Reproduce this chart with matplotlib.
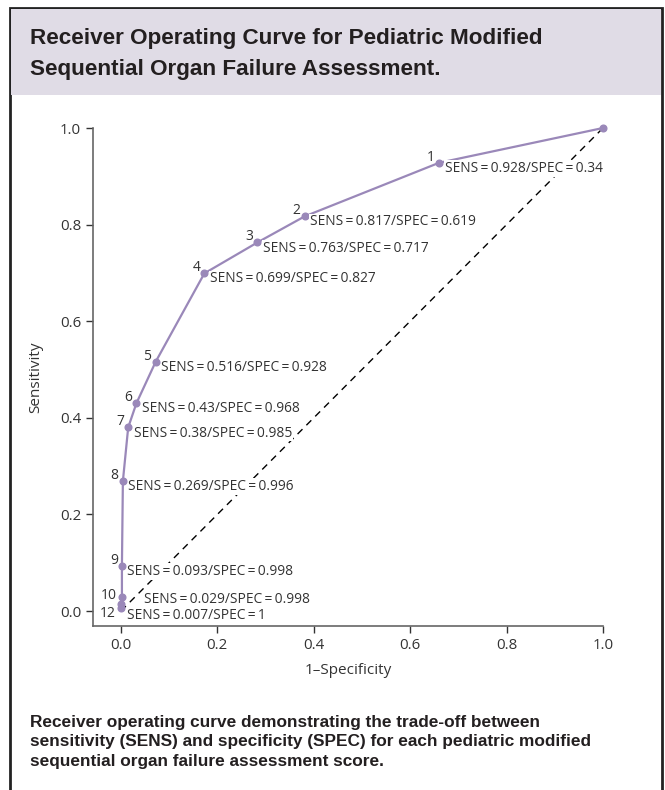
import matplotlib
matplotlib.use("Agg")
import matplotlib.pyplot as plt
from matplotlib.patches import Rectangle

# ROC points, one per pediatric modified SOFA cut-off score
scores = [1, 2, 3, 4, 5, 6, 7, 8, 9, 10, 11, 12]
sens = [0.928, 0.817, 0.763, 0.699, 0.516, 0.43, 0.38, 0.269, 0.093, 0.029, 0.014, 0.007]
spec = [0.34, 0.619, 0.717, 0.827, 0.928, 0.968, 0.985, 0.996, 0.998, 0.998, 0.999, 1]
shown = [True] * 10 + [False, True]
spec_text = ["0.34", "0.619", "0.717", "0.827", "0.928", "0.968", "0.985",
             "0.996", "0.998", "0.998", "0.999", "1"]
sens_text = ["0.928", "0.817", "0.763", "0.699", "0.516", "0.43", "0.38",
             "0.269", "0.093", "0.029", "0.014", "0.007"]

x_ticks = [0.0, 0.2, 0.4, 0.6, 0.8, 1.0]
y_ticks = [0.0, 0.2, 0.4, 0.6, 0.8, 1.0]

title = "Receiver Operating Curve for Pediatric Modified\nSequential Organ Failure Assessment."
caption = ("Receiver operating curve demonstrating the trade-off between\n"
           "sensitivity (SENS) and specificity (SPEC) for each pediatric modified\n"
           "sequential organ failure assessment score.")

PURPLE = "#9a88b9"
HEAD_BG = "#e0dce6"
BODY_FONT = ["Open Sans", "DejaVu Sans"]
HEAD_FONT = ["Liberation Sans", "DejaVu Sans"]

fig = plt.figure(figsize=(6.65, 7.9), dpi=100)

# frame and title band
fig.patches.append(Rectangle((10 / 665, -0.01), 652 / 665, (790 - 8) / 790 + 0.01,
                             transform=fig.transFigure, facecolor="white",
                             edgecolor="#222222", linewidth=2, zorder=0))
fig.patches.append(Rectangle((11 / 665, (790 - 95) / 790), 650 / 665, 86 / 790,
                             transform=fig.transFigure, facecolor=HEAD_BG,
                             edgecolor="none", zorder=1))
fig.text(30 / 665, 1 - 28 / 790, title, ha="left", va="top", fontsize=16.2,
         fontweight="bold", family=HEAD_FONT, color="#231f20", linespacing=1.6)
fig.text(30 / 665, 1 - 715 / 790, caption, ha="left", va="top", fontsize=12.4,
         fontweight="bold", family=HEAD_FONT, color="#231f20", linespacing=1.36)

ax = fig.add_axes([93 / 665, 164 / 790, 510 / 665, 498 / 790])
ax.set_zorder(5)
fpr = [1 - s for s in spec]
ax.plot([0, 1], [0, 1], ls=(0, (5, 4)), color="black", lw=1, zorder=1)
ax.plot([1] + fpr, [1] + sens, color=PURPLE, lw=1.6, marker="o", ms=4.8,
        zorder=2, clip_on=False)

# label placement (points): number label, SENS/SPEC label
num_off = [(-3, 4)] * 12
txt_off = [(4, -4)] * 12
num_off[9] = (-4, 1)
txt_off[9] = (16, -2)
num_off[11] = (-4, -4)
txt_off[11] = (4, -6)

for i, score in enumerate(scores):
    if not shown[i]:
        continue
    ax.annotate(str(score), (fpr[i], sens[i]), xytext=num_off[i],
                textcoords="offset points", ha="right", va="center",
                fontsize=10, family=BODY_FONT, color="#333333", zorder=3)
    ax.annotate(f"SENS = {sens_text[i]}/SPEC = {spec_text[i]}".replace(" = ", "\u2009=\u2009"),
                (fpr[i], sens[i]), xytext=txt_off[i], textcoords="offset points",
                ha="left", va="center", fontsize=9.9, family=BODY_FONT,
                color="#333333", zorder=3,
                bbox=dict(boxstyle="square,pad=0.05", facecolor="white",
                          edgecolor="none"))

ax.set_xlim(-0.058, 1.0)
ax.set_ylim(-0.031, 1.0)
ax.set_xticks(x_ticks)
ax.set_yticks(y_ticks)
ax.set_xticklabels([f"{t:.1f}" for t in x_ticks], family=BODY_FONT)
ax.set_yticklabels([f"{t:.1f}" for t in y_ticks], family=BODY_FONT)
ax.tick_params(labelsize=10.8, colors="#333333", length=5, width=1, direction="out")
for side in ("top", "right"):
    ax.spines[side].set_visible(False)
for side in ("left", "bottom"):
    ax.spines[side].set_color("#666666")
    ax.spines[side].set_linewidth(1.2)
ax.set_xlabel("1\u2013Specificity", fontsize=11, family=BODY_FONT, color="#333333", labelpad=7)
ax.set_ylabel("Sensitivity", fontsize=11, family=BODY_FONT, color="#333333", labelpad=12)
ax.set_facecolor("none")

fig.savefig("out.png", dpi=100)
